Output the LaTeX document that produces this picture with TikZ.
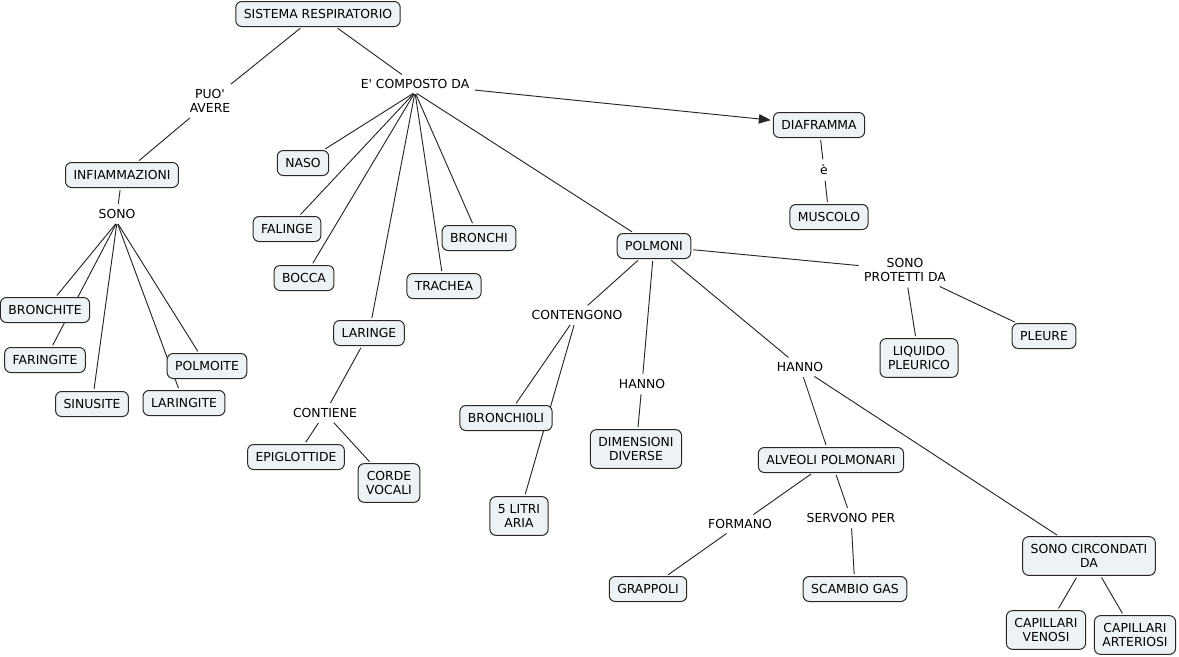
\documentclass[tikz,border=0pt]{standalone}
\usepackage{fontspec}
\setmainfont{DejaVu Sans}
\usetikzlibrary{arrows.meta}
\pgfdeclarelayer{background}
\pgfsetlayers{background,main}
\definecolor{boxfill}{RGB}{237,242,245}
\definecolor{boxline}{RGB}{40,40,40}
\begin{document}
\begin{tikzpicture}[x=0.75pt,y=-0.75pt,
  every node/.style={font=\fontsize{9.3pt}{11pt}\selectfont},
  box/.style={draw=boxline,fill=boxfill,rounded corners=4.5pt,line width=0.75pt,
    inner xsep=6pt,inner ysep=3pt,minimum height=18.75pt,align=center},
  boxtwo/.style={box,minimum height=29pt},
  lbl/.style={inner sep=2.5pt,align=center},
  conn/.style={line width=0.7pt,draw=black!85,shorten <=1.5pt,shorten >=1.5pt}]
\useasboundingbox (0,0) rectangle (1179,657);
% concepts
\node[box] (sis) at (318,14) {SISTEMA RESPIRATORIO};
\node[box] (inf) at (122,175) {INFIAMMAZIONI};
\node[box] (bronchite) at (45,310) {BRONCHITE};
\node[box] (faringite) at (45,360) {FARINGITE};
\node[box] (sinusite) at (92,404) {SINUSITE};
\node[box] (polmoite) at (207,366) {POLMOITE};
\node[box] (laringite) at (184,403) {LARINGITE};
\node[box] (naso) at (303,163) {NASO};
\node[box] (falinge) at (287,229) {FALINGE};
\node[box] (bocca) at (304,278) {BOCCA};
\node[box] (trachea) at (444,286) {TRACHEA};
\node[box] (bronchi) at (479,238) {BRONCHI};
\node[box] (laringe) at (369,333) {LARINGE};
\node[box] (epi) at (296,457) {EPIGLOTTIDE};
\node[boxtwo] (corde) at (389,483) {CORDE\\VOCALI};
\node[box] (diaf) at (819,125) {DIAFRAMMA};
\node[box] (muscolo) at (829,217) {MUSCOLO};
\node[box] (polmoni) at (654,246) {POLMONI};
\node[boxtwo] (liquido) at (919,358) {LIQUIDO\\PLEURICO};
\node[box] (pleure) at (1044,336) {PLEURE};
\node[box] (bronchioli) at (506,418) {BRONCHI0LI};
\node[boxtwo] (litri) at (519,516) {5 LITRI\\ARIA};
\node[boxtwo] (dim) at (636,449) {DIMENSIONI\\DIVERSE};
\node[box] (alveoli) at (831,460) {ALVEOLI POLMONARI};
\node[box] (grappoli) at (648,589) {GRAPPOLI};
\node[box] (scambio) at (855,589) {SCAMBIO GAS};
\node[boxtwo] (circ) at (1089,556) {SONO CIRCONDATI\\DA};
\node[boxtwo] (venosi) at (1046,630) {CAPILLARI\\VENOSI};
\node[boxtwo] (arteriosi) at (1135,635) {CAPILLARI\\ARTERIOSI};
% linking phrases
\node[lbl] (puo) at (210,101) {PUO\textquotesingle\\AVERE};
\node[lbl] (compost) at (415,84) {E\textquotesingle{} COMPOSTO DA};
\node[lbl] (sono) at (117,214) {SONO};
\node[lbl] (contiene) at (325,413) {CONTIENE};
\node[lbl] (e) at (824,170) {è};
\node[lbl] (protetti) at (905,270) {SONO\\PROTETTI DA};
\node[lbl] (contengono) at (577,315) {CONTENGONO};
\node[lbl] (hanno1) at (642,384) {HANNO};
\node[lbl] (hanno2) at (800,367) {HANNO};
\node[lbl] (formano) at (740,524) {FORMANO};
\node[lbl] (servono) at (851,518) {SERVONO PER};
% connectors
\begin{pgfonlayer}{background}
\draw[conn] (sis) -- (puo);
\draw[conn] (puo) -- (inf);
\draw[conn] (sis) -- (compost);
\draw[conn] (inf) -- (sono);
\draw[conn] (sono.south) -- (bronchite);
\draw[conn] (sono.south) -- (faringite);
\draw[conn] (sono.south) -- (sinusite);
\draw[conn] (sono.south) -- (polmoite);
\draw[conn] (sono.south) -- (laringite);
\draw[conn] (compost.south) -- (naso);
\draw[conn] (compost.south) -- (falinge);
\draw[conn] (compost.south) -- (bocca);
\draw[conn] (compost.south) -- (laringe);
\draw[conn] (compost.south) -- (trachea);
\draw[conn] (compost.south) -- (bronchi);
\draw[conn] (compost.south) -- (polmoni);
\draw[conn,-{Triangle[length=9pt,width=7pt]}] (compost) -- (diaf);
\draw[conn] (laringe) -- (contiene);
\draw[conn] (contiene) -- (epi);
\draw[conn] (contiene) -- (corde);
\draw[conn] (diaf) -- (e);
\draw[conn] (e) -- (muscolo);
\draw[conn] (polmoni) -- (protetti);
\draw[conn] (protetti) -- (liquido);
\draw[conn] (protetti) -- (pleure);
\draw[conn] (polmoni) -- (contengono);
\draw[conn] (contengono) -- (bronchioli);
\draw[conn] (contengono) -- (litri);
\draw[conn] (polmoni) -- (hanno1);
\draw[conn] (hanno1) -- (dim);
\draw[conn] (polmoni) -- (hanno2);
\draw[conn] (hanno2) -- (alveoli);
\draw[conn] (hanno2) -- (circ);
\draw[conn] (alveoli) -- (formano);
\draw[conn] (formano) -- (grappoli);
\draw[conn] (alveoli) -- (servono);
\draw[conn] (servono) -- (scambio);
\draw[conn] (circ) -- (venosi);
\draw[conn] (circ) -- (arteriosi);
\end{pgfonlayer}
\end{tikzpicture}
\end{document}
